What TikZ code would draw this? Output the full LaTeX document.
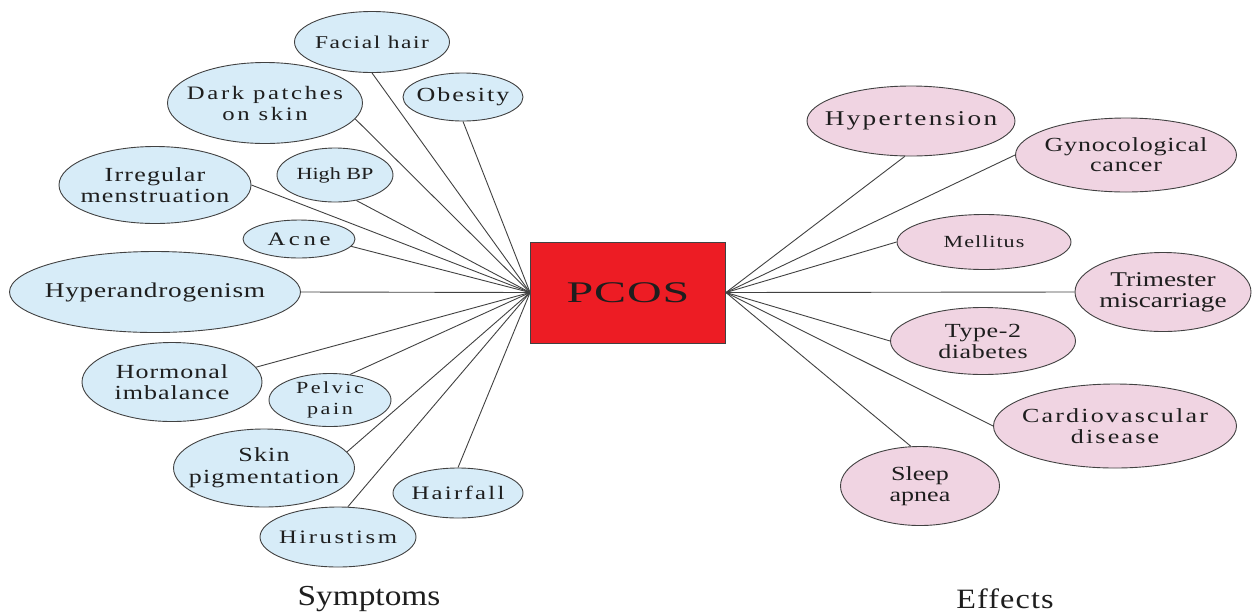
\documentclass[tikz,border=0pt]{standalone}
\usepackage{fontspec}
\setmainfont{Liberation Serif}
\newfontfamily\wdfont[FakeStretch=1.3]{Liberation Serif}
\newfontfamily\lbfont[FakeStretch=1.15]{Liberation Serif}
\newfontfamily\pcfont[FakeStretch=1.6]{Liberation Serif}
\usetikzlibrary{shapes.geometric}
\definecolor{symc}{RGB}{215,236,248}
\definecolor{effc}{RGB}{240,212,226}
\definecolor{pcosc}{RGB}{237,28,36}
\definecolor{edgec}{RGB}{65,65,65}
\definecolor{txtc}{RGB}{30,30,30}
\newcommand\tf[3]{\wdfont\fontsize{#1}{#2}\selectfont\addfontfeatures{LetterSpace=#3}}
\newcommand\zl[1]{\makebox[0pt]{#1}}
\newcommand\zz[2]{\makebox[0pt]{#1}\\\makebox[0pt]{#2}}
\tikzset{
  symnode/.style={ellipse, draw=edgec, line width=0.9pt, fill=symc, inner sep=0pt, align=center, text=txtc},
  effnode/.style={ellipse, draw=edgec, line width=0.9pt, fill=effc, inner sep=0pt, align=center, text=txtc},
  link/.style={draw=edgec, line width=0.9pt},
  sz/.style 2 args={minimum width=#1pt, minimum height=#2pt},
}
\begin{document}
\begin{tikzpicture}[x=1pt,y=-1pt]
\useasboundingbox (0,0) rectangle (1252,614);
% hub
\node[draw=edgec, line width=0.9pt, fill=pcosc, minimum width=195pt, minimum height=101pt, inner sep=0pt, text=txtc, font={\pcfont\fontsize{30}{32}\selectfont\addfontfeatures{LetterSpace=3}}] (pc) at (628,292.5) {PCOS};
% symptoms
\node[symnode, sz={155}{61}, font={\tf{18}{21}{9}}] (fh) at (372,42) {\zl{Facial hair}};
\node[symnode, sz={195}{81}, font={\tf{19}{21}{14}}] (dp) at (265,103) {\zz{Dark patches}{on skin}};
\node[symnode, sz={120}{48}, font={\tf{20}{22}{10}}] (ob) at (463,97) {\zl{Obesity}};
\node[symnode, sz={192}{77}, font={\tf{20}{21}{6}}] (im) at (155,185) {\zz{Irregular}{menstruation}};
\node[symnode, sz={116}{54}, font={\tf{17}{20}{0}}] (hb) at (335,175) {\zl{High BP}};
\node[symnode, sz={112}{38}, font={\tf{19}{21}{19}}] (ac) at (299,239) {\zl{Acne}};
\node[symnode, sz={291}{81}, font={\tf{21}{23}{3.5}}] (hy) at (155,292) {\zl{Hyperandrogenism}};
\node[symnode, sz={180}{79}, font={\tf{20}{21}{5}}] (ho) at (172,382) {\zz{Hormonal}{imbalance}};
\node[symnode, sz={122}{53}, font={\tf{17}{21}{15}}] (pp) at (330,400) {\zz{Pelvic}{pain}};
\node[symnode, sz={181}{78}, font={\tf{20}{22}{6}}] (sp) at (264,468) {\zz{Skin}{pigmentation}};
\node[symnode, sz={130}{50}, font={\tf{19}{21}{12}}] (hf) at (458,493) {\zl{Hairfall}};
\node[symnode, sz={156}{60}, font={\tf{19}{21}{13.5}}] (hi) at (338,537) {\zl{Hirustism}};
% effects
\node[effnode, sz={208}{70}, font={\tf{21}{23}{11}}] (ht) at (911,121) {\zl{Hypertension}};
\node[effnode, sz={221}{74}, font={\tf{20}{20}{4}}] (gc) at (1126,155) {\zz{Gynocological}{cancer}};
\node[effnode, sz={174}{55}, font={\tf{17}{20}{6}}] (me) at (984,242) {\zl{Mellitus}};
\node[effnode, sz={176}{79}, font={\tf{21}{21}{0}}] (tm) at (1163,292) {\zz{Trimester}{miscarriage}};
\node[effnode, sz={185}{67}, font={\tf{20}{21}{3}}] (t2) at (983,341) {\zz{Type-2}{diabetes}};
\node[effnode, sz={243}{84}, font={\tf{20}{21}{11}}] (cd) at (1115,426) {\zz{Cardiovascular}{disease}};
\node[effnode, sz={159}{79}, font={\tf{20}{21}{0}}] (sa) at (920,486) {\zz{Sleep}{apnea}};
% captions
\node[text=txtc, inner sep=0pt, font={\lbfont\fontsize{29}{31}\selectfont}] (sy) at (369,599) {Symptoms};
\node[text=txtc, inner sep=0pt, font={\lbfont\fontsize{28}{30}\selectfont\addfontfeatures{LetterSpace=4}}] (ef) at (1005,599) {Effects};
% connectors (symptoms)
\draw[link] (pc.west) -- (fh.south);
\draw[link] (pc.west) -- (dp.-10);
\draw[link] (pc.west) -- (ob.south);
\draw[link] (pc.west) -- (im.east);
\draw[link] (pc.west) -- (hb.-50);
\draw[link] (pc.west) -- (ac.-8);
\draw[link] (pc.west) -- (hy.east);
\draw[link] (pc.west) -- (ho.10);
\draw[link] (pc.west) -- (pp.52);
\draw[link] (pc.west) -- (sp.11);
\draw[link] (pc.west) -- (hf.north);
\draw[link] (pc.west) -- (hi.72);
% connectors (effects)
\draw[link] (pc.east) -- (ht.-100);
\draw[link] (pc.east) -- (gc.west);
\draw[link] (pc.east) -- (me.west);
\draw[link] (pc.east) -- (tm.west);
\draw[link] (pc.east) -- (t2.west);
\draw[link] (pc.east) -- (cd.west);
\draw[link] (pc.east) -- (sa.103);
\end{tikzpicture}
\end{document}
